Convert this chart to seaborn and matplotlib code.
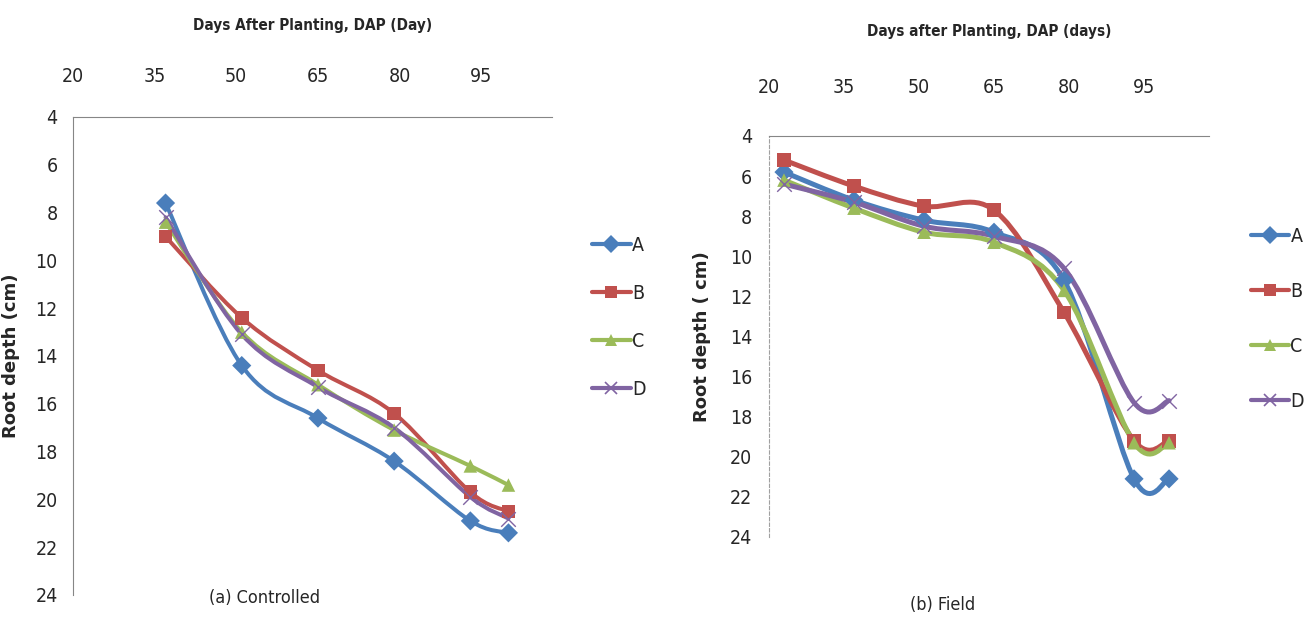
import numpy as np
import pandas as pd
import matplotlib
matplotlib.use("Agg")
import matplotlib.pyplot as plt
import seaborn as sns
from matplotlib.path import Path
from matplotlib.patches import PathPatch
from matplotlib.lines import Line2D

# data
series = ["A", "B", "C", "D"]
colors = ["#4A7EBB", "#C0504D", "#9BBB59", "#8064A2"]
markers = ["D", "s", "^", "x"]

dap_ctrl = [37, 51, 65, 79, 93, 100]
ctrl_A = [7.6, 14.4, 16.6, 18.4, 20.9, 21.4]
ctrl_B = [9.0, 12.4, 14.6, 16.4, 19.7, 20.5]
ctrl_C = [8.4, 13.0, 15.2, 17.1, 18.6, 19.4]
ctrl_D = [8.2, 13.1, 15.3, 17.0, 19.9, 20.8]

dap_field = [23, 37, 51, 65, 79, 93, 100]
field_A = [5.8, 7.2, 8.2, 8.8, 11.2, 21.1, 21.1]
field_B = [5.2, 6.5, 7.5, 7.7, 12.8, 19.2, 19.2]
field_C = [6.2, 7.6, 8.8, 9.3, 11.7, 19.3, 19.3]
field_D = [6.4, 7.3, 8.5, 9.0, 10.6, 17.3, 17.2]

xticks = [20, 35, 50, 65, 80, 95]
yticks = [4, 6, 8, 10, 12, 14, 16, 18, 20, 22, 24]

ctrl = pd.DataFrame({"dap": dap_ctrl * 4,
                     "depth": ctrl_A + ctrl_B + ctrl_C + ctrl_D,
                     "line": sum([[s] * len(dap_ctrl) for s in series], [])})
field = pd.DataFrame({"dap": dap_field * 4,
                      "depth": field_A + field_B + field_C + field_D,
                      "line": sum([[s] * len(dap_field) for s in series], [])})

sns.set_style("white")
plt.rcParams["font.family"] = ["DejaVu Sans"]
plt.rcParams["font.stretch"] = "condensed"


def smooth_path(x, y):
    # excel-like smoothed line: cubic bezier through the points
    x = np.asarray(x, float)
    y = np.asarray(y, float)
    n = len(x)
    verts = [(x[0], y[0])]
    codes = [Path.MOVETO]
    for i in range(n - 1):
        i0 = max(i - 1, 0)
        i3 = min(i + 2, n - 1)
        c1 = (x[i] + (x[i + 1] - x[i0]) / 6, y[i] + (y[i + 1] - y[i0]) / 6)
        c2 = (x[i + 1] - (x[i3] - x[i]) / 6, y[i + 1] - (y[i3] - y[i]) / 6)
        verts += [c1, c2, (x[i + 1], y[i + 1])]
        codes += [Path.CURVE4] * 3
    return Path(verts, codes)


def panel(ax, df, lw, title, ylab, ylab_size, xpad, tpad, ypad, dashed_left):
    for s, c in zip(series, colors):
        d = df[df.line == s]
        ax.add_patch(PathPatch(smooth_path(d.dap, d.depth), fill=False,
                               edgecolor=c, lw=lw, capstyle="round",
                               joinstyle="round", zorder=2))
    filled = df[df.line != "D"]
    sns.scatterplot(data=filled, x="dap", y="depth", hue="line", style="line",
                    palette=dict(zip(series[:3], colors[:3])),
                    markers=dict(zip(series[:3], markers[:3])), s=95,
                    linewidth=0, legend=False, ax=ax, zorder=3)
    dd = df[df.line == "D"]
    sns.scatterplot(x=dd.dap, y=dd.depth, marker="x", s=110, color=colors[3],
                    linewidth=1.0, legend=False, ax=ax, zorder=4)
    ax.set_xlim(20, 108)
    ax.set_ylim(24, 4)
    ax.set_xticks(xticks)
    ax.set_yticks(yticks)
    ax.xaxis.tick_top()
    ax.xaxis.set_label_position("top")
    ax.tick_params(axis="x", length=0, pad=xpad, labelsize=14)
    ax.tick_params(axis="y", length=0, pad=ypad, labelsize=14)
    ax.set_xlabel(title, fontsize=11, fontweight="bold", labelpad=tpad)
    ax.set_ylabel(ylab, fontsize=ylab_size, fontweight="bold",
                  fontstretch="normal")
    for sp in ["right", "bottom"]:
        ax.spines[sp].set_visible(False)
    ax.spines["top"].set_color("#868686")
    ax.spines["left"].set_color("#868686")
    if dashed_left:
        ax.spines["left"].set_linestyle((0, (3, 2)))
        ax.spines["left"].set_color("#a0a0a0")


fig = plt.figure(figsize=(13.04, 6.19), dpi=100)
ax1 = fig.add_axes([0.056, 0.0388, 0.3673, 0.7722])
ax2 = fig.add_axes([0.5897, 0.1325, 0.3375, 0.6478])

panel(ax1, ctrl, 2.9, "Days After Planting, DAP (Day)", "Root depth (cm)", 13,
      22, 27, 11, False)
panel(ax2, field, 3.6, "Days after Planting, DAP (days)", "Root depth ( cm)", 13,
      28, 30, 12, True)
ax1.yaxis.set_label_coords(-0.11, 0.5)
ax2.yaxis.set_label_coords(-0.131, 0.5)

for ax, x0, y0, dy in [(ax1, 0.454, 0.603, 0.0775), (ax2, 0.959, 0.618, 0.089)]:
    handles = [Line2D([], [], color=c, marker=m, lw=3, markersize=9,
                      markeredgewidth=1.2 if m == "x" else 0)
               for c, m in zip(colors, markers)]
    for i, (h, s) in enumerate(zip(handles, series)):
        fig.legend([h], [s], loc="center left",
                   bbox_to_anchor=(x0, y0 - i * dy),
                   frameon=False, handlelength=2.0, handletextpad=0.05,
                   fontsize=14, borderaxespad=0, borderpad=0)

fig.text(265 / 1304, 1 - 598 / 619, "(a) Controlled", ha="center",
         va="center", fontsize=13)
fig.text(943 / 1304, 1 - 605 / 619, "(b) Field", ha="center",
         va="center", fontsize=13)

fig.savefig("out.png", dpi=100)
